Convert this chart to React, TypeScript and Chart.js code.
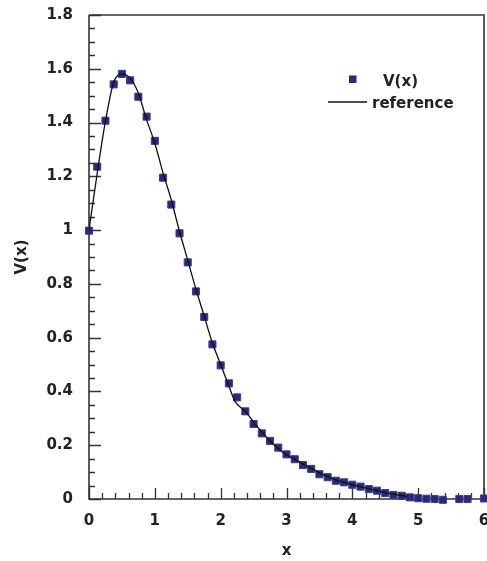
import React, { useEffect, useRef } from "react";
import { Chart, registerables } from "chart.js";

Chart.register(...registerables);

// V(x) sample points (x step 0.125; two samples absent in the source)
const pointX = [
  0, 0.125, 0.25, 0.375, 0.5, 0.625, 0.75, 0.875, 1.0, 1.125, 1.25, 1.375, 1.5, 1.625, 1.75, 1.875,
  2.0, 2.125, 2.25, 2.375, 2.5, 2.625, 2.75, 2.875, 3.0, 3.125, 3.25, 3.375, 3.5, 3.625, 3.75, 3.875,
  4.0, 4.125, 4.25, 4.375, 4.5, 4.625, 4.75, 4.875, 5.0, 5.125, 5.25, 5.375, 5.625, 5.75, 6.0,
];
const pointY = [
  0.998, 1.236, 1.407, 1.542, 1.581, 1.557, 1.496, 1.422, 1.332, 1.195, 1.095, 0.988, 0.88, 0.772, 0.677, 0.575,
  0.497, 0.43, 0.378, 0.326, 0.279, 0.244, 0.216, 0.191, 0.166, 0.148, 0.126, 0.112, 0.092, 0.081, 0.068, 0.062,
  0.053, 0.046, 0.037, 0.031, 0.022, 0.015, 0.012, 0.006, 0.003, 0.001, 0.0, -0.003, 0.0, 0.0, 0.002,
];

// reference curve
const refX = [
  0, 0.125, 0.25, 0.375, 0.5, 0.625, 0.75, 0.875, 1.0, 1.125, 1.25, 1.375, 1.5, 1.625, 1.75, 1.875,
  2.0, 2.125, 2.22, 2.375, 2.5, 2.625, 2.75, 2.875, 3.0, 3.125, 3.25, 3.375, 3.5, 3.625, 3.75, 3.875,
  4.0, 4.125, 4.25, 4.375, 4.5, 4.625, 4.75, 4.84,
];
const refY = [
  1.0, 1.212, 1.405, 1.55, 1.58, 1.565, 1.509, 1.41, 1.323, 1.212, 1.112, 0.995, 0.888, 0.78, 0.68, 0.58,
  0.5, 0.42, 0.362, 0.326, 0.286, 0.25, 0.216, 0.188, 0.164, 0.148, 0.13, 0.114, 0.098, 0.083, 0.071, 0.062,
  0.053, 0.045, 0.038, 0.031, 0.024, 0.018, 0.013, 0.01,
];

const xTickValues = [0, 1, 2, 3, 4, 5, 6];
const xTickLabels = ["0", "1", "2", "3", "4", "5", "6"];
const yTickValues = [0, 0.2, 0.4, 0.6, 0.8, 1.0, 1.2, 1.4, 1.6, 1.8];
const yTickLabels = ["0", "0.2", "0.4", "0.6", "0.8", "1", "1.2", "1.4", "1.6", "1.8"];
const xMinorStep = 0.2;
const yMinorStep = 0.05;

const seriesName = "V(x)";
const refName = "reference";
const xTitle = "x";
const yTitle = "V(x)";

const FONT = "'DejaVu Sans', sans-serif";
const TEXT = "#222222";
const AXIS = "#333333";
const MARK = "#28297a";

const zeroPad = (s: any) => {
  s.paddingTop = 0;
  s.paddingBottom = 0;
  s.paddingLeft = 0;
  s.paddingRight = 0;
};

const framePlugin = {
  id: "frameTicks",
  beforeDatasetsDraw(chart: any) {
    const { ctx, chartArea } = chart;
    const { left, right, top, bottom } = chartArea;
    const xs = chart.scales.x;
    const ys = chart.scales.y;
    ctx.save();
    ctx.strokeStyle = AXIS;
    ctx.lineWidth = 1.3;
    ctx.beginPath();
    for (let i = 0; i <= Math.round((xs.max - xs.min) / xMinorStep); i++) {
      const v = xs.min + i * xMinorStep;
      const major = xTickValues.some((t) => Math.abs(t - v) < 1e-6);
      const px = Math.round(xs.getPixelForValue(v)) + 0.5;
      ctx.moveTo(px, bottom);
      ctx.lineTo(px, bottom - (major ? 11 : 6));
    }
    for (let i = 0; i <= Math.round((ys.max - ys.min) / yMinorStep); i++) {
      const v = ys.min + i * yMinorStep;
      const major = yTickValues.some((t) => Math.abs(t - v) < 1e-6);
      const py = Math.round(ys.getPixelForValue(v)) + 0.5;
      ctx.moveTo(left, py);
      ctx.lineTo(left + (major ? 12 : 6), py);
    }
    ctx.stroke();
    ctx.lineWidth = 1.6;
    ctx.beginPath();
    ctx.moveTo(left, top);
    ctx.lineTo(left, bottom);
    ctx.lineTo(right, bottom);
    ctx.lineTo(right, top);
    ctx.lineTo(left, top);
    ctx.stroke();
    ctx.restore();
  },
  afterDraw(chart: any) {
    const { ctx } = chart;
    ctx.save();
    ctx.fillStyle = MARK;
    ctx.fillRect(349, 75.5, 7.5, 7.5);
    ctx.strokeStyle = "#111111";
    ctx.lineWidth = 1.3;
    ctx.beginPath();
    ctx.moveTo(328, 102);
    ctx.lineTo(367, 102);
    ctx.stroke();
    ctx.fillStyle = TEXT;
    ctx.font = `bold 15px ${FONT}`;
    ctx.textAlign = "left";
    ctx.textBaseline = "alphabetic";
    ctx.fillText(seriesName, 383, 85.5);
    ctx.fillText(refName, 372, 108);
    ctx.restore();
  },
};

export default function App() {
  const ref = useRef<HTMLCanvasElement>(null);
  useEffect(() => {
    if (!ref.current) return;
    const chart = new Chart(ref.current, {
      type: "scatter",
      data: {
        datasets: [
          {
            type: "line",
            label: refName,
            data: refX.map((x, i) => ({ x, y: refY[i] })),
            borderColor: "#111111",
            borderWidth: 1.3,
            pointRadius: 0,
            fill: false,
            cubicInterpolationMode: "monotone",
            order: 0,
          } as any,
          {
            type: "scatter",
            label: seriesName,
            data: pointX.map((x, i) => ({ x, y: pointY[i] })),
            pointStyle: "rect",
            pointRadius: 5,
            backgroundColor: MARK,
            borderColor: "#3b3e8f",
            borderWidth: 1,
            clip: false,
            order: 1,
          } as any,
        ],
      },
      options: {
        animation: false,
        responsive: false,
        maintainAspectRatio: false,
        events: [],
        layout: { autoPadding: false, padding: { left: 0, top: 15, right: 11, bottom: 0 } },
        plugins: { legend: { display: false }, tooltip: { enabled: false } },
        scales: {
          x: {
            type: "linear",
            min: 0,
            max: 6,
            grid: { display: false, drawTicks: false },
            border: { display: false },
            afterBuildTicks: (s: any) => {
              s.ticks = xTickValues.map((v) => ({ value: v }));
            },
            afterFit: (s: any) => {
              s.height = 62;
              zeroPad(s);
            },
            ticks: {
              padding: 13,
              color: TEXT,
              font: { family: FONT, size: 15, weight: "bold" },
              callback: (v: any) => xTickLabels[xTickValues.indexOf(Number(v))] ?? "",
            },
            title: {
              display: true,
              text: xTitle,
              color: TEXT,
              font: { family: FONT, size: 15, weight: "bold" },
              padding: { top: 0, bottom: 1 },
            },
          },
          y: {
            type: "linear",
            min: 0,
            max: 1.8,
            grid: { display: false, drawTicks: false },
            border: { display: false },
            afterBuildTicks: (s: any) => {
              s.ticks = yTickValues.map((v) => ({ value: v }));
            },
            afterFit: (s: any) => {
              s.width = 89;
              zeroPad(s);
            },
            ticks: {
              padding: 16,
              color: TEXT,
              font: { family: FONT, size: 15, weight: "bold" },
              callback: (v: any) => {
                const i = yTickValues.findIndex((t) => Math.abs(t - Number(v)) < 1e-6);
                return i >= 0 ? yTickLabels[i] : "";
              },
            },
            title: {
              display: true,
              text: yTitle,
              color: TEXT,
              font: { family: FONT, size: 15, weight: "bold" },
              padding: { top: 13, bottom: 0 },
            },
          },
        },
      } as any,
      plugins: [framePlugin],
    });
    return () => chart.destroy();
  }, []);
  return (
    <div
      style={{
        position: "absolute",
        left: 0,
        top: 0,
        width: 487,
        height: 561,
        overflow: "hidden",
        background: "#ffffff",
      }}
    >
      <div style={{ width: 495, height: 561 }}>
        <canvas ref={ref} width={495} height={561} style={{ display: "block", width: 495, height: 561 }} />
      </div>
    </div>
  );
}
